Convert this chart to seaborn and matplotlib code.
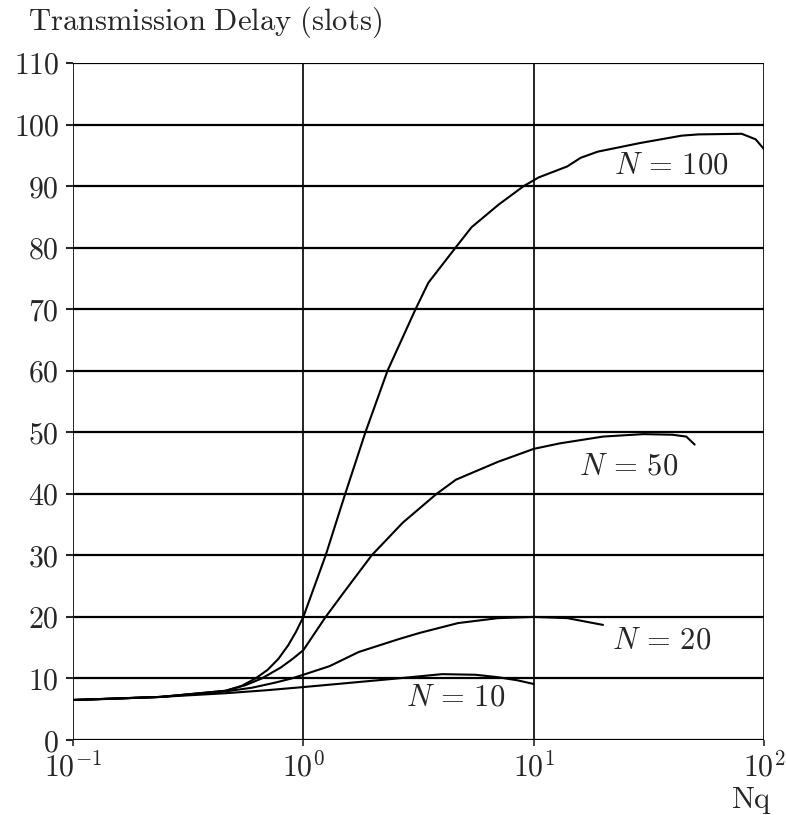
import numpy as np
import pandas as pd
import matplotlib
matplotlib.use("Agg")
import matplotlib.pyplot as plt
import seaborn as sns
from matplotlib.ticker import NullLocator, FixedLocator

# ---------------- data ----------------
x_n10 = [0.1, 0.15, 0.24, 0.46, 0.7, 1.0, 1.5, 2.4, 4.0, 5.6, 7.0, 8.5, 10]
y_n10 = [6.5, 6.7, 7.0, 7.6, 8.1, 8.6, 9.2, 9.9, 10.7, 10.6, 10.2, 9.7, 9.1]

x_n20 = [0.1, 0.24, 0.46, 0.6, 0.75, 0.89, 1.0, 1.3, 1.74, 2.6, 3.2, 4.7, 7.0, 10, 14, 20]
y_n20 = [6.5, 7.0, 7.9, 8.5, 9.3, 10.0, 10.6, 12.0, 14.3, 16.4, 17.4, 19.0, 19.8, 20.0, 19.8, 18.7]

x_n50 = [0.1, 0.24, 0.46, 0.56, 0.66, 0.8, 0.9, 1.0, 1.25, 1.5, 1.98, 2.7, 3.79, 4.6, 7.0,
         8.3, 10, 13, 20, 30, 40, 46, 50]
y_n50 = [6.5, 7.0, 8.0, 8.9, 10.0, 11.8, 13.2, 14.6, 20.0, 24.0, 30.0, 35.3, 40.0, 42.3, 45.2,
         46.2, 47.3, 48.2, 49.3, 49.7, 49.6, 49.3, 48.0]

x_n100 = [0.1, 0.24, 0.46, 0.54, 0.62, 0.7, 0.78, 0.86, 0.93, 1.0, 1.25, 1.52, 1.86, 2.32,
          3.07, 3.49, 4.58, 5.37, 7.05, 9.05, 10.5, 14, 16, 19, 29, 44, 52, 80, 92, 100]
y_n100 = [6.5, 7.0, 8.0, 8.8, 10.0, 11.4, 13.2, 15.4, 17.6, 20.0, 30.0, 40.0, 50.0, 60.0,
          70.0, 74.3, 80.0, 83.3, 87.0, 90.0, 91.4, 93.2, 94.6, 95.6, 97.0, 98.2, 98.4, 98.5,
          97.6, 96.0]

series_names = ["N = 10", "N = 20", "N = 50", "N = 100"]
label_text = [r"$N\,=\,10$", r"$N\,=\,20$", r"$N\,=\,50$", r"$N\,=\,100$"]
label_x = [4.58, 36, 25.9, 39.4]
label_y = [7.0, 16.3, 44.6, 93.5]

y_ticks = [0, 10, 20, 30, 40, 50, 60, 70, 80, 90, 100, 110]
x_ticks = [0.1, 1, 10, 100]
x_tick_labels = [r"$10^{-1}$", r"$10^{0}$", r"$10^{1}$", r"$10^{2}$"]
y_title = r"$\mathrm{Transmission\ Delay\ (slots)}$"
x_title = r"$\mathrm{Nq}$"

# ---------------- build table ----------------
frames = []
for name, xs, ys in zip(series_names,
                        [x_n10, x_n20, x_n50, x_n100],
                        [y_n10, y_n20, y_n50, y_n100]):
    frames.append(pd.DataFrame({"Nq": xs, "delay": ys, "series": name}))
df = pd.concat(frames, ignore_index=True)

# ---------------- style ----------------
sns.set_style("white")
plt.rcParams["mathtext.fontset"] = "cm"
plt.rcParams["font.family"] = ["DejaVu Serif"]

fig = plt.figure(figsize=(7.86, 8.15), dpi=100)
ax = fig.add_axes([73 / 786, 1 - 740 / 815, (764 - 73) / 786, (740 - 63) / 815])

sns.lineplot(data=df, x="Nq", y="delay", hue="series", units="series",
             estimator=None, sort=False, palette=["black"] * 4,
             linewidth=1.5, legend=False, ax=ax)

ax.set_xscale("log")
ax.set_xlim(0.1, 100)
ax.set_ylim(0, 110)

# grid
for yv in y_ticks:
    ax.axhline(yv, color="black", lw=1.6, zorder=0)
for xv in x_ticks:
    ax.axvline(xv, color="black", lw=1.2, zorder=0)

for s in ax.spines.values():
    s.set_visible(False)

TICK_FS = 21.5
ax.xaxis.set_major_locator(FixedLocator(x_ticks))
ax.xaxis.set_minor_locator(NullLocator())
ax.set_xticklabels(x_tick_labels, fontsize=TICK_FS)
ax.yaxis.set_major_locator(FixedLocator(y_ticks))
ax.set_yticklabels([f"${v}$" for v in y_ticks], fontsize=TICK_FS)
ax.tick_params(axis="y", length=5, width=1.5, direction="out", pad=5, left=True)
ax.tick_params(axis="x", length=4, width=1.2, direction="out", pad=4, bottom=True)
ax.set_xlabel("")
ax.set_ylabel("")

for t, lx, ly in zip(label_text, label_x, label_y):
    ax.text(lx, ly, t, fontsize=22, ha="center", va="center")

fig.text(28 / 786, 1 - 22 / 815, y_title, fontsize=22, ha="left", va="center")
fig.text(752 / 786, 1 - 800 / 815, x_title, fontsize=22, ha="center", va="center")

fig.savefig("out.png", dpi=100)
